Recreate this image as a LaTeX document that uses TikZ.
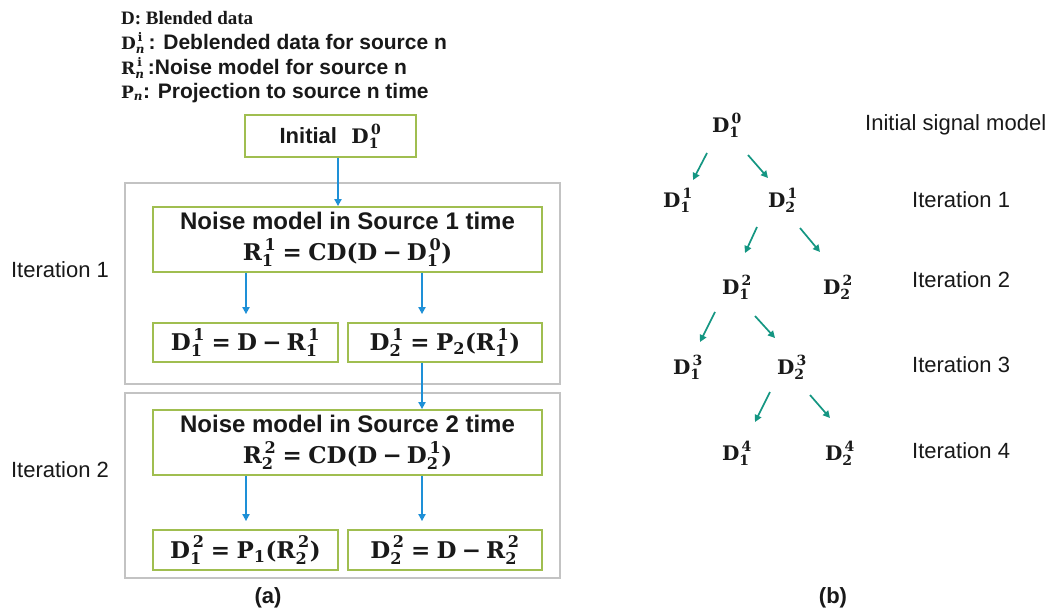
\RequirePackage{fix-cm}
\documentclass[tikz,border=0pt]{standalone}
\usepackage{amsmath}
\usepackage{fontspec}
\newfontfamily\arial{Liberation Sans}
\newfontfamily\tnr{Liberation Serif}
\newfontfamily\dvs{DejaVu Serif}
\usetikzlibrary{arrows.meta,calc}
\definecolor{boxgreen}{RGB}{160,190,80}
\definecolor{arrblue}{RGB}{30,144,215}
\definecolor{arrteal}{RGB}{20,150,130}
\definecolor{outergray}{RGB}{195,195,195}
\definecolor{txt}{RGB}{25,25,25}
% symbols with stacked sub/superscripts, set in the current text font (math mode)
\newcommand\SB[3]{\text{#1}_{\text{#2}}^{\mkern3mu\text{#3}}}
\newcommand\SBs[2]{\text{#1}_{\text{#2}}}
\newcommand\eq{\mathrel{\text{=}}}
\newcommand\mn{\mathbin{\text{−}}}
\newcommand\mth{\dvs\bfseries}
\begin{document}
\begin{tikzpicture}[x=1pt,y=-1pt,
  every node/.style={text=txt},
  gbox/.style={draw=boxgreen, line width=1.8pt, inner sep=0pt, align=center,
    font=\mth\fontsize{23}{31}\selectfont},
  outerbox/.style={draw=outergray, line width=1.3pt, inner sep=0pt},
  barrow/.style={draw=arrblue, line width=1.8pt, -{Triangle[length=7pt,width=7pt]}},
  tarrow/.style={draw=arrteal, line width=1.7pt, -{Triangle[length=7pt,width=7pt]}},
  lbl/.style={inner sep=0pt, font=\arial\fontsize{22}{26}\selectfont},
  captxt/.style={inner sep=0pt, font=\arial\bfseries\fontsize{22}{26}\selectfont},
  leg/.style={inner sep=0pt, anchor=west, font=\arial\bfseries\fontsize{21}{25}\selectfont},
  legm/.style={font=\mth\fontsize{17}{20}\selectfont},
  tnode/.style={inner sep=1pt, font=\mth\fontsize{20}{24}\selectfont}]
\path[fill=white] (0,0) rectangle (1058,613);
\useasboundingbox (0,0) rectangle (1058,613);

% legend
\node[leg, font=\tnr\bfseries\fontsize{19}{25}\selectfont] (l1) at (121,18) {D: Blended data};
\node[leg] (l2) at (121,43) {{\mth\fontsize{17}{20}\selectfont$\SB{D}{\itshape n}{i}$}\,: Deblended data for source n};
\node[leg] (l3) at (121,68) {{\mth\fontsize{17}{20}\selectfont$\SB{R}{\itshape n}{i}$}\,:Noise model for source n};
\node[leg] (l4) at (121,93) {{\mth\fontsize{17}{20}\selectfont$\SBs{P}{\itshape n}$}: Projection to source n time};

% column coordinates
\coordinate (colI) at (338,0);
\coordinate (colL) at (246,0);
\coordinate (colR) at (422,0);

% outer iteration boxes
\node[outerbox, minimum width=435pt, minimum height=201pt] (it1) at (342.5,283.5) {};
\node[outerbox, minimum width=435pt, minimum height=185pt] (it2) at (342.5,485.5) {};

% boxes
\node[gbox, minimum width=171pt, minimum height=42pt] (init) at (330.5,136)
  {{\arial\bfseries\fontsize{22}{26}\selectfont Initial}\; {\fontsize{20}{24}\selectfont$\SB{D}{1}{0}$}};
\node[gbox, minimum width=389pt, minimum height=65pt] (n1) at (347.5,239.5)
  {{\arial\bfseries\fontsize{24}{29}\selectfont Noise model in Source 1 time}\\
   $\SB{R}{1}{1}\eq\text{CD(D}\mn\SB{D}{1}{0}\text{)}$};
\node[gbox, minimum width=185pt, minimum height=39pt] (d11) at (245.5,342.5)
  {$\SB{D}{1}{1}\eq\text{D}\mn\SB{R}{1}{1}$};
\node[gbox, minimum width=194pt, minimum height=39pt] (d21) at (445,342.5)
  {$\SB{D}{2}{1}\eq\SBs{P}{2}\text{(}\SB{R}{1}{1}\text{)}$};
\node[gbox, minimum width=389pt, minimum height=65pt] (n2) at (347.5,442.5)
  {{\arial\bfseries\fontsize{24}{29}\selectfont Noise model in Source 2 time}\\
   $\SB{R}{2}{2}\eq\text{CD(D}\mn\SB{D}{2}{1}\text{)}$};
\node[gbox, minimum width=185pt, minimum height=40pt] (d12) at (245.5,550)
  {$\SB{D}{1}{2}\eq\SBs{P}{1}\text{(}\SB{R}{2}{2}\text{)}$};
\node[gbox, minimum width=194pt, minimum height=40pt] (d22) at (445,550)
  {$\SB{D}{2}{2}\eq\text{D}\mn\SB{R}{2}{2}$};

% arrows (a)
\draw[barrow] (colI |- init.south) -- (colI |- n1.north);
\draw[barrow, shorten >=8pt] (colL |- n1.south) -- (colL |- d11.north);
\draw[barrow, shorten >=8pt] (colR |- n1.south) -- (colR |- d21.north);
\draw[barrow] (colR |- d21.south) -- (colR |- n2.north);
\draw[barrow, shorten >=8pt] (colL |- n2.south) -- (colL |- d12.north);
\draw[barrow, shorten >=8pt] (colR |- n2.south) -- (colR |- d22.north);

% left labels
\node[lbl] (it1l) at (60,270) {Iteration 1};
\node[lbl] (it2l) at (60,470) {Iteration 2};
\node[captxt] (capa) at (268,598) {(a)};

% tree (b)
\node[tnode] (t10) at (727,125) {$\SB{D}{1}{0}$};
\node[tnode] (t11) at (678,200) {$\SB{D}{1}{1}$};
\node[tnode] (t21) at (783,200) {$\SB{D}{2}{1}$};
\node[tnode] (t12) at (737,287) {$\SB{D}{1}{2}$};
\node[tnode] (t22) at (838,287) {$\SB{D}{2}{2}$};
\node[tnode] (t13) at (688,367) {$\SB{D}{1}{3}$};
\node[tnode] (t23) at (792,367) {$\SB{D}{2}{3}$};
\node[tnode] (t14) at (737,453) {$\SB{D}{1}{4}$};
\node[tnode] (t24) at (840,453) {$\SB{D}{2}{4}$};

\draw[tarrow] ([xshift=-20pt,yshift=-28pt]t10.center) -- ([xshift=15pt,yshift=20pt]t11.center);
\draw[tarrow] ([xshift=21pt,yshift=-30pt]t10.center) -- ([xshift=-15pt,yshift=22pt]t21.center);
\draw[tarrow] ([xshift=-26pt,yshift=-27pt]t21.center) -- ([xshift=8pt,yshift=34pt]t12.center);
\draw[tarrow] ([xshift=17pt,yshift=-28pt]t21.center) -- ([xshift=-18pt,yshift=35pt]t22.center);
\draw[tarrow] ([xshift=-22pt,yshift=-25pt]t12.center) -- ([xshift=12pt,yshift=25pt]t13.center);
\draw[tarrow] ([xshift=18pt,yshift=-29pt]t12.center) -- ([xshift=-17pt,yshift=29pt]t23.center);
\draw[tarrow] ([xshift=-22pt,yshift=-25pt]t23.center) -- ([xshift=18pt,yshift=31pt]t14.center);
\draw[tarrow] ([xshift=18pt,yshift=-28pt]t23.center) -- ([xshift=-10pt,yshift=35pt]t24.center);

\node[lbl, anchor=west] (r0) at (865,125) {Initial signal model};
\node[lbl, anchor=west] (r1) at (912,200) {Iteration 1};
\node[lbl, anchor=west] (r2) at (912,280) {Iteration 2};
\node[lbl, anchor=west] (r3) at (912,365) {Iteration 3};
\node[lbl, anchor=west] (r4) at (912,451) {Iteration 4};
\node[captxt] (capb) at (833,598) {(b)};
\end{tikzpicture}
\end{document}
